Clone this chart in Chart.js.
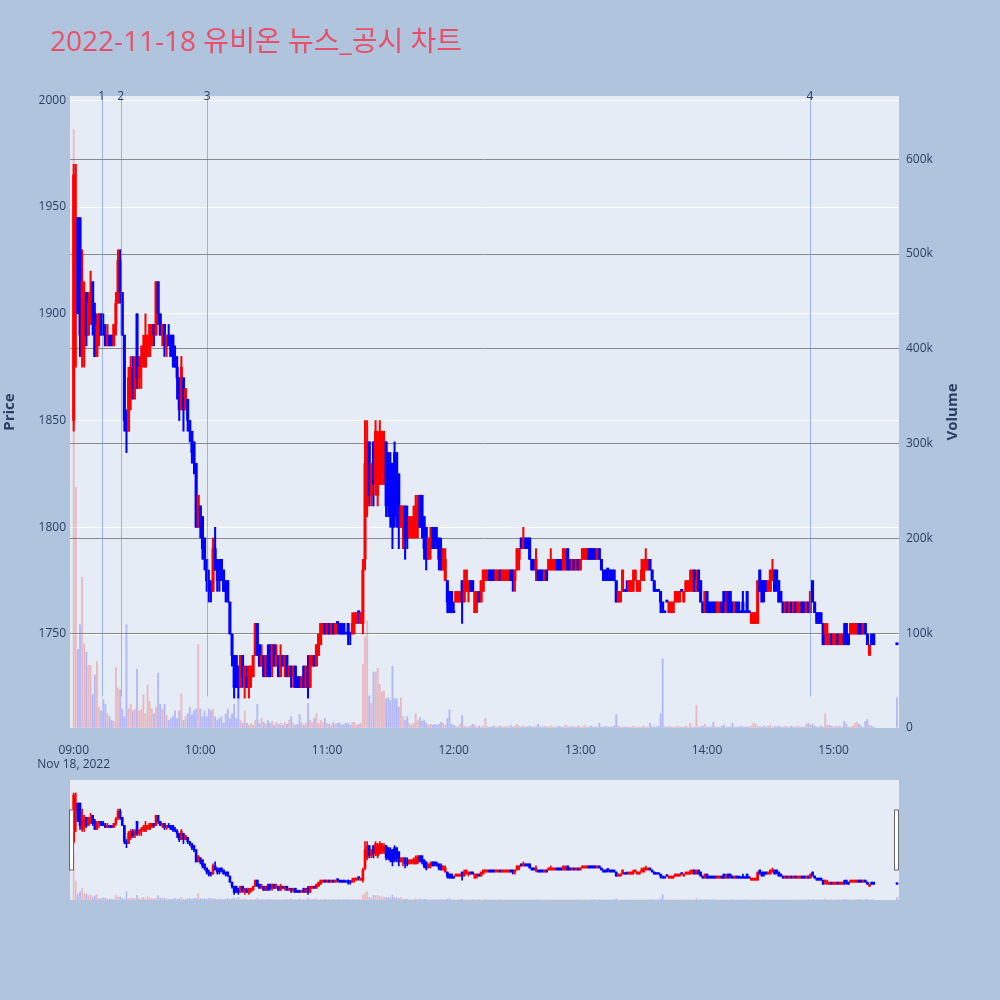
<!DOCTYPE html>
<html>
<head>
<meta charset="utf-8">
<script src="https://cdn.jsdelivr.net/npm/chart.js@4.4.0/dist/chart.umd.min.js"></script>
<style>
  html, body { margin: 0; padding: 0; background: #B0C4DE; }
  #wrap { position: relative; width: 1000px; height: 1000px; }
  #main { position: absolute; left: 0; top: 0; }
  #slider { position: absolute; left: 0; top: 760px; }
</style>
</head>
<body>
<div id="wrap">
  <canvas id="main" width="1000" height="1000"></canvas>
  <canvas id="slider" width="1000" height="160"></canvas>
</div>
<script>
var titleText = '2022-11-18 유비온 뉴스_공시 차트';

// 1분봉, 09:00 ~ 15:19 + 15:30 종가
var opens = [
  1850, 1925, 1945, 1945, 1880, 1885, 1910, 1890, 1895, 1915,
  1900, 1880, 1895, 1900, 1895, 1890, 1885, 1890, 1890, 1885,
  1895, 1905, 1925, 1910, 1890, 1850, 1845, 1860, 1875, 1865,
  1900, 1870, 1875, 1880, 1875, 1885, 1880, 1885, 1895, 1890,
  1915, 1900, 1890, 1895, 1885, 1890, 1890, 1890, 1880, 1875,
  1870, 1855, 1870, 1855, 1860, 1850, 1845, 1840, 1830, 1800,
  1810, 1805, 1795, 1785, 1775, 1770, 1770, 1790, 1785, 1780,
  1785, 1780, 1775, 1775, 1765, 1750, 1740, 1740, 1735, 1725,
  1740, 1725, 1730, 1725, 1730, 1730, 1740, 1755, 1745, 1735,
  1740, 1730, 1740, 1745, 1735, 1745, 1735, 1740, 1730, 1740,
  1735, 1740, 1730, 1735, 1730, 1735, 1730, 1730, 1725, 1735,
  1725, 1735, 1725, 1735, 1740, 1735, 1740, 1745, 1750, 1755,
  1750, 1755, 1750, 1755, 1750, 1755, 1755, 1750, 1755, 1750,
  1755, 1750, 1750, 1755, 1755, 1760, 1755, 1755, 1785, 1810,
  1840, 1815, 1840, 1820, 1815, 1820, 1825, 1825, 1840, 1835,
  1830, 1830, 1835, 1835, 1825, 1800, 1800, 1810, 1800, 1795,
  1800, 1795, 1795, 1800, 1815, 1815, 1805, 1800, 1785, 1790,
  1800, 1800, 1795, 1795, 1790, 1780, 1775, 1775, 1770, 1770,
  1760, 1765, 1765, 1765, 1775, 1765, 1770, 1770, 1775, 1775,
  1760, 1765, 1770, 1765, 1770, 1775, 1775, 1780, 1780, 1780,
  1775, 1775, 1780, 1775, 1775, 1775, 1775, 1780, 1780, 1775,
  1780, 1785, 1795, 1790, 1795, 1795, 1795, 1785, 1785, 1780,
  1780, 1780, 1780, 1775, 1780, 1780, 1780, 1780, 1780, 1785,
  1785, 1785, 1780, 1780, 1790, 1785, 1780, 1785, 1780, 1785,
  1780, 1785, 1785, 1785, 1790, 1790, 1790, 1790, 1785, 1790,
  1785, 1780, 1780, 1780, 1780, 1780, 1780, 1775, 1765, 1765,
  1770, 1770, 1770, 1770, 1770, 1770, 1775, 1770, 1770, 1775,
  1775, 1780, 1780, 1785, 1780, 1775, 1770, 1770, 1770, 1765,
  1760, 1765, 1760, 1760, 1760, 1765, 1765, 1765, 1770, 1765,
  1770, 1770, 1770, 1775, 1780, 1770, 1780, 1775, 1765, 1760,
  1770, 1765, 1765, 1765, 1765, 1760, 1760, 1765, 1770, 1760,
  1770, 1770, 1765, 1760, 1765, 1765, 1760, 1765, 1760, 1770,
  1760, 1755, 1755, 1755, 1755, 1780, 1775, 1775, 1775, 1770,
  1770, 1775, 1780, 1780, 1775, 1770, 1765, 1760, 1765, 1760,
  1765, 1760, 1765, 1760, 1760, 1765, 1765, 1760, 1765, 1760,
  1775, 1765, 1760, 1760, 1760, 1755, 1750, 1745, 1745, 1750,
  1745, 1745, 1750, 1745, 1745, 1750, 1755, 1750, 1750, 1750,
  1750, 1750, 1755, 1755, 1750, 1755, 1750, 1740, 1750, 1750,
  1745
];
var highs = [
  1970, 1970, 1945, 1945, 1930, 1915, 1910, 1910, 1920, 1915,
  1905, 1900, 1900, 1900, 1900, 1895, 1895, 1890, 1890, 1895,
  1910, 1930, 1930, 1910, 1890, 1855, 1875, 1880, 1880, 1880,
  1900, 1880, 1885, 1890, 1900, 1890, 1895, 1895, 1895, 1915,
  1915, 1900, 1895, 1895, 1890, 1895, 1890, 1890, 1885, 1880,
  1870, 1880, 1870, 1865, 1860, 1850, 1845, 1840, 1830, 1815,
  1810, 1805, 1795, 1785, 1780, 1775, 1795, 1800, 1785, 1785,
  1785, 1780, 1775, 1775, 1765, 1750, 1740, 1740, 1735, 1740,
  1740, 1735, 1735, 1735, 1735, 1740, 1755, 1755, 1745, 1745,
  1740, 1740, 1745, 1745, 1745, 1745, 1745, 1740, 1745, 1740,
  1740, 1740, 1735, 1735, 1735, 1735, 1730, 1730, 1730, 1735,
  1735, 1740, 1740, 1740, 1740, 1745, 1750, 1755, 1755, 1755,
  1755, 1755, 1755, 1755, 1755, 1755, 1755, 1755, 1755, 1750,
  1755, 1750, 1760, 1760, 1760, 1760, 1760, 1785, 1850, 1850,
  1840, 1830, 1840, 1850, 1845, 1850, 1845, 1845, 1840, 1835,
  1835, 1830, 1840, 1835, 1825, 1810, 1810, 1810, 1810, 1805,
  1805, 1810, 1815, 1815, 1815, 1815, 1805, 1800, 1795, 1800,
  1800, 1800, 1800, 1795, 1795, 1790, 1790, 1775, 1770, 1770,
  1765, 1770, 1770, 1770, 1775, 1780, 1780, 1775, 1775, 1775,
  1770, 1770, 1770, 1775, 1780, 1780, 1780, 1780, 1780, 1780,
  1780, 1780, 1780, 1780, 1780, 1780, 1780, 1780, 1780, 1780,
  1790, 1790, 1795, 1800, 1795, 1795, 1795, 1785, 1785, 1790,
  1780, 1780, 1780, 1780, 1780, 1785, 1790, 1785, 1785, 1785,
  1785, 1785, 1790, 1790, 1790, 1785, 1785, 1785, 1785, 1785,
  1785, 1790, 1790, 1790, 1790, 1790, 1790, 1790, 1790, 1790,
  1785, 1780, 1780, 1780, 1780, 1780, 1780, 1775, 1770, 1770,
  1780, 1770, 1775, 1775, 1775, 1780, 1780, 1775, 1775, 1785,
  1785, 1790, 1785, 1785, 1780, 1775, 1770, 1770, 1770, 1765,
  1760, 1765, 1765, 1765, 1765, 1770, 1770, 1770, 1770, 1770,
  1775, 1775, 1780, 1780, 1780, 1780, 1780, 1775, 1765, 1770,
  1770, 1765, 1765, 1765, 1765, 1765, 1765, 1765, 1770, 1770,
  1770, 1770, 1765, 1765, 1765, 1765, 1760, 1770, 1760, 1770,
  1760, 1760, 1760, 1760, 1775, 1780, 1775, 1775, 1775, 1775,
  1780, 1785, 1780, 1780, 1775, 1770, 1765, 1765, 1765, 1765,
  1765, 1765, 1765, 1765, 1765, 1765, 1765, 1765, 1765, 1770,
  1775, 1765, 1760, 1760, 1760, 1755, 1755, 1755, 1750, 1750,
  1750, 1750, 1750, 1750, 1750, 1755, 1755, 1750, 1755, 1755,
  1755, 1755, 1755, 1755, 1755, 1755, 1750, 1745, 1750, 1750,
  1745
];
var lows = [
  1845, 1875, 1900, 1880, 1875, 1875, 1885, 1890, 1895, 1890,
  1880, 1880, 1885, 1890, 1890, 1885, 1885, 1885, 1885, 1885,
  1890, 1905, 1905, 1890, 1845, 1835, 1845, 1855, 1860, 1860,
  1865, 1865, 1865, 1875, 1875, 1880, 1880, 1885, 1885, 1890,
  1895, 1890, 1885, 1880, 1880, 1885, 1880, 1875, 1875, 1860,
  1850, 1855, 1845, 1855, 1845, 1840, 1830, 1825, 1800, 1800,
  1795, 1785, 1780, 1770, 1765, 1765, 1770, 1780, 1770, 1770,
  1775, 1770, 1765, 1765, 1750, 1735, 1720, 1725, 1720, 1725,
  1725, 1720, 1725, 1720, 1725, 1730, 1740, 1740, 1735, 1735,
  1730, 1730, 1730, 1730, 1730, 1735, 1735, 1730, 1730, 1735,
  1730, 1730, 1730, 1725, 1725, 1725, 1725, 1725, 1725, 1725,
  1725, 1720, 1725, 1735, 1735, 1735, 1740, 1745, 1750, 1750,
  1750, 1750, 1750, 1750, 1750, 1750, 1750, 1750, 1750, 1750,
  1745, 1745, 1750, 1750, 1755, 1755, 1755, 1750, 1780, 1805,
  1810, 1810, 1810, 1815, 1810, 1820, 1820, 1820, 1805, 1805,
  1800, 1790, 1800, 1800, 1790, 1800, 1790, 1785, 1790, 1795,
  1795, 1795, 1795, 1795, 1800, 1795, 1785, 1780, 1785, 1785,
  1790, 1790, 1790, 1780, 1780, 1780, 1775, 1760, 1760, 1760,
  1760, 1765, 1765, 1765, 1755, 1765, 1770, 1765, 1770, 1770,
  1760, 1760, 1765, 1765, 1770, 1775, 1775, 1775, 1775, 1775,
  1775, 1775, 1775, 1775, 1775, 1775, 1775, 1775, 1770, 1770,
  1780, 1780, 1790, 1790, 1790, 1790, 1785, 1780, 1780, 1775,
  1775, 1775, 1775, 1775, 1775, 1780, 1780, 1780, 1780, 1780,
  1780, 1780, 1780, 1780, 1780, 1780, 1780, 1780, 1780, 1780,
  1780, 1785, 1785, 1785, 1785, 1785, 1785, 1785, 1785, 1785,
  1780, 1775, 1775, 1775, 1775, 1775, 1775, 1765, 1765, 1765,
  1770, 1770, 1770, 1770, 1770, 1770, 1775, 1770, 1770, 1775,
  1775, 1780, 1780, 1780, 1775, 1770, 1770, 1770, 1760, 1760,
  1760, 1765, 1760, 1760, 1760, 1765, 1765, 1765, 1770, 1765,
  1770, 1770, 1770, 1770, 1770, 1770, 1770, 1765, 1760, 1760,
  1760, 1760, 1760, 1760, 1760, 1760, 1760, 1760, 1760, 1760,
  1760, 1760, 1760, 1760, 1760, 1760, 1760, 1760, 1760, 1760,
  1760, 1755, 1755, 1755, 1755, 1770, 1765, 1765, 1770, 1770,
  1770, 1775, 1770, 1770, 1765, 1765, 1760, 1760, 1760, 1760,
  1760, 1760, 1760, 1760, 1760, 1760, 1760, 1760, 1760, 1760,
  1765, 1760, 1755, 1755, 1755, 1745, 1745, 1745, 1745, 1745,
  1745, 1745, 1745, 1745, 1745, 1745, 1745, 1745, 1750, 1750,
  1750, 1750, 1750, 1750, 1750, 1750, 1745, 1740, 1745, 1745,
  1745
];
var closes = [
  1965, 1945, 1900, 1890, 1915, 1905, 1890, 1905, 1910, 1895,
  1880, 1895, 1900, 1890, 1890, 1885, 1890, 1885, 1885, 1895,
  1905, 1925, 1910, 1890, 1850, 1845, 1870, 1875, 1865, 1875,
  1870, 1875, 1880, 1885, 1890, 1890, 1895, 1895, 1890, 1915,
  1900, 1890, 1895, 1885, 1890, 1885, 1880, 1880, 1875, 1870,
  1855, 1875, 1855, 1865, 1850, 1845, 1835, 1830, 1800, 1815,
  1800, 1790, 1785, 1775, 1770, 1770, 1790, 1780, 1775, 1775,
  1780, 1770, 1770, 1765, 1750, 1740, 1725, 1725, 1725, 1740,
  1730, 1735, 1725, 1735, 1735, 1740, 1755, 1740, 1735, 1740,
  1730, 1740, 1730, 1735, 1745, 1735, 1740, 1730, 1740, 1735,
  1740, 1730, 1735, 1730, 1735, 1725, 1725, 1725, 1730, 1725,
  1735, 1725, 1740, 1740, 1735, 1745, 1750, 1755, 1755, 1750,
  1755, 1750, 1755, 1750, 1755, 1755, 1750, 1750, 1750, 1750,
  1750, 1750, 1755, 1760, 1760, 1760, 1760, 1780, 1830, 1840,
  1815, 1830, 1820, 1845, 1840, 1845, 1845, 1840, 1810, 1810,
  1805, 1800, 1805, 1810, 1800, 1810, 1810, 1795, 1795, 1805,
  1805, 1805, 1810, 1815, 1800, 1800, 1790, 1785, 1795, 1795,
  1790, 1795, 1790, 1785, 1780, 1790, 1785, 1765, 1760, 1760,
  1760, 1770, 1770, 1770, 1765, 1775, 1780, 1775, 1770, 1770,
  1770, 1770, 1765, 1775, 1780, 1780, 1780, 1775, 1775, 1775,
  1780, 1780, 1775, 1780, 1780, 1780, 1780, 1775, 1775, 1780,
  1790, 1790, 1790, 1795, 1790, 1790, 1785, 1780, 1780, 1785,
  1775, 1775, 1775, 1780, 1775, 1785, 1785, 1785, 1785, 1780,
  1780, 1780, 1790, 1785, 1780, 1780, 1785, 1780, 1785, 1780,
  1785, 1790, 1790, 1790, 1785, 1785, 1785, 1785, 1790, 1785,
  1780, 1775, 1775, 1780, 1775, 1775, 1775, 1765, 1770, 1770,
  1780, 1770, 1770, 1775, 1775, 1775, 1780, 1775, 1775, 1780,
  1785, 1785, 1785, 1780, 1775, 1770, 1770, 1770, 1765, 1760,
  1760, 1765, 1765, 1765, 1765, 1770, 1770, 1770, 1770, 1770,
  1775, 1775, 1775, 1780, 1770, 1775, 1770, 1765, 1760, 1770,
  1760, 1760, 1760, 1760, 1760, 1765, 1765, 1760, 1760, 1765,
  1760, 1765, 1760, 1765, 1760, 1760, 1760, 1760, 1760, 1760,
  1760, 1760, 1760, 1760, 1775, 1770, 1765, 1770, 1770, 1775,
  1780, 1780, 1770, 1775, 1765, 1765, 1760, 1765, 1760, 1765,
  1760, 1765, 1760, 1765, 1765, 1760, 1760, 1765, 1760, 1770,
  1765, 1760, 1755, 1755, 1755, 1745, 1755, 1750, 1750, 1745,
  1750, 1750, 1745, 1750, 1750, 1745, 1750, 1745, 1755, 1755,
  1755, 1755, 1750, 1750, 1755, 1750, 1745, 1745, 1745, 1745,
  1745
];
// 거래량 (천주)
var volumeK = [
  631, 254, 83, 109, 159, 89, 80, 66, 66, 35,
  56, 70, 22, 18, 30, 25, 15, 12, 8, 7,
  64, 42, 40, 20, 12, 109, 20, 25, 18, 20,
  62, 18, 20, 35, 15, 45, 28, 20, 15, 22,
  58, 25, 20, 25, 13, 8, 10, 12, 18, 10,
  18, 36, 8, 12, 15, 22, 14, 18, 20, 88,
  20, 12, 18, 12, 20, 18, 20, 12, 8, 10,
  12, 5, 15, 20, 10, 15, 25, 10, 35, 8,
  5, 18, 5, 3, 5, 3, 8, 25, 5, 10,
  6, 4, 8, 5, 7, 3, 6, 4, 5, 3,
  6, 4, 8, 12, 5, 3, 4, 14, 6, 3,
  5, 26, 8, 6, 10, 15, 5, 8, 6, 10,
  5, 4, 3, 6, 4, 5, 5, 3, 4, 5,
  5, 3, 6, 6, 3, 4, 5, 67, 96, 113,
  34, 26, 59, 59, 63, 46, 38, 39, 31, 32,
  29, 65, 31, 31, 22, 32, 12, 8, 12, 5,
  3, 5, 15, 8, 11, 7, 8, 5, 3, 4,
  3, 4, 3, 4, 6, 5, 3, 10, 19, 4,
  3, 2, 1, 4, 13, 2, 1, 1, 2, 4,
  3, 1, 2, 1, 2, 10, 2, 1, 1, 2,
  1, 1, 2, 1, 1, 2, 1, 3, 1, 2,
  4, 2, 1, 2, 1, 1, 2, 1, 1, 2,
  4, 1, 1, 2, 1, 1, 2, 1, 1, 1,
  2, 1, 1, 3, 1, 1, 2, 1, 1, 2,
  1, 1, 3, 1, 1, 2, 1, 1, 1, 5,
  1, 1, 2, 1, 1, 1, 2, 14, 2, 1,
  1, 1, 1, 1, 1, 2, 1, 1, 1, 1,
  2, 1, 1, 5, 1, 1, 1, 2, 15, 73,
  1, 1, 2, 1, 1, 1, 2, 1, 1, 1,
  2, 1, 5, 1, 1, 24, 1, 1, 2, 4,
  1, 1, 1, 6, 1, 1, 1, 2, 3, 1,
  1, 1, 5, 1, 1, 1, 2, 1, 1, 1,
  1, 2, 5, 4, 2, 1, 1, 2, 1, 2,
  3, 1, 2, 1, 2, 1, 1, 2, 1, 1,
  2, 1, 1, 2, 1, 1, 1, 4, 5, 3,
  4, 2, 1, 1, 2, 1, 15, 3, 3, 2,
  1, 2, 1, 2, 1, 7, 4, 1, 1, 2,
  5, 6, 4, 2, 1, 7, 9, 3, 2, 1,
  32
];

// 뉴스/공시 시점 (09:00 기준 분)
var newsLabels = ['1', '2', '3', '4'];
var newsMinutes = [13.3, 22.3, 63.2, 348.7];

var hourTicks = [0, 60, 120, 180, 240, 300, 360];
var hourLabels = ['09:00', '10:00', '11:00', '12:00', '13:00', '14:00', '15:00'];
var dateLabel = 'Nov 18, 2022';

// 15:20까지 1분 간격, 마지막은 15:30 단일가
var minutes = opens.map(function(_, i) { return i < 380 ? i : 390; });

var UP = '#ff0000', DOWN = '#0000ff';
var candleColors = closes.map(function(c, i) { return c > opens[i] ? UP : DOWN; });
var volColors = closes.map(function(c, i) { return c > opens[i] ? 'rgba(255,0,0,0.22)' : 'rgba(0,0,255,0.22)'; });

var tickColor = '#2a3f5f';
var tickFont = { family: "'Open Sans', sans-serif", size: 12 };
var xMin = -1.75, xMax = 390.95;

function buildDatasets(bodyW, wickW, volW, minLen) {
    return [
        {
            data: minutes.map(function(m, i) { return { x: m, y: [opens[i], closes[i]] }; }),
            backgroundColor: candleColors, barThickness: bodyW, minBarLength: minLen,
            grouped: false, yAxisID: 'y', order: 0
        },
        {
            data: minutes.map(function(m, i) { return { x: m, y: [lows[i], highs[i]] }; }),
            backgroundColor: candleColors, barThickness: wickW,
            grouped: false, yAxisID: 'y', order: 1
        },
        {
            data: minutes.map(function(m, i) { return { x: m, y: volumeK[i] }; }),
            backgroundColor: volColors, barThickness: volW,
            grouped: false, yAxisID: 'y2', order: 2
        }
    ];
}

var mainDecor = {
    id: 'mainDecor',
    beforeDraw: function(chart) {
        var ctx = chart.ctx, a = chart.chartArea;
        ctx.save();
        ctx.fillStyle = '#E5ECF6';
        ctx.fillRect(a.left, a.top, a.right - a.left, a.bottom - a.top);
        ctx.restore();
    },
    afterDatasetsDraw: function(chart) {
        var ctx = chart.ctx, a = chart.chartArea, x = chart.scales.x;
        var yEnd = a.bottom - 0.05 * (a.bottom - a.top);
        ctx.save();
        ctx.strokeStyle = 'rgba(80,115,235,0.5)';
        ctx.lineWidth = 1;
        newsMinutes.forEach(function(m) {
            var px = Math.round(x.getPixelForValue(m)) + 0.5;
            ctx.beginPath();
            ctx.moveTo(px, a.top);
            ctx.lineTo(px, yEnd);
            ctx.stroke();
        });
        ctx.restore();
    },
    afterDraw: function(chart) {
        var ctx = chart.ctx, a = chart.chartArea, x = chart.scales.x;
        ctx.save();
        // 뉴스 번호
        ctx.fillStyle = tickColor;
        ctx.font = "12px 'Open Sans', sans-serif";
        ctx.textAlign = 'center';
        ctx.textBaseline = 'middle';
        newsMinutes.forEach(function(m, k) {
            ctx.fillText(newsLabels[k], x.getPixelForValue(m), a.top + 1);
        });
        // 제목
        ctx.fillStyle = '#e8506a';
        ctx.font = "28px 'Open Sans', 'Noto Sans CJK KR', sans-serif";
        ctx.textAlign = 'left';
        ctx.textBaseline = 'alphabetic';
        ctx.fillText(titleText, 50, 51);
        // 축 제목
        var midY = (a.top + a.bottom) / 2;
        ctx.fillStyle = tickColor;
        ctx.font = "bold 15px 'Open Sans', sans-serif";
        ctx.textAlign = 'center';
        ctx.textBaseline = 'middle';
        ctx.translate(10, midY);
        ctx.rotate(-Math.PI / 2);
        ctx.fillText('Price', 0, 0);
        ctx.rotate(Math.PI / 2);
        ctx.translate(943, 0);
        ctx.rotate(-Math.PI / 2);
        ctx.fillText('Volume', 0, 0);
        ctx.restore();
    }
};

new Chart(document.getElementById('main'), {
    type: 'bar',
    data: { datasets: buildDatasets(2.4, 1.4, 1.2, 2) },
    options: {
        responsive: false,
        animation: false,
        devicePixelRatio: 1,
        layout: { padding: { top: 96, bottom: 212, left: 0, right: 0 } },
        plugins: { legend: { display: false }, tooltip: { enabled: false } },
        scales: {
            x: {
                type: 'linear', min: xMin, max: xMax, offset: false,
                grid: { display: false }, border: { display: false },
                afterBuildTicks: function(s) { s.ticks = hourTicks.map(function(v) { return { value: v }; }); },
                afterFit: function(s) { s.height = 60; },
                ticks: {
                    color: tickColor, font: tickFont, padding: 7, maxRotation: 0, autoSkip: false,
                    callback: function(v) {
                        var k = hourTicks.indexOf(v);
                        return k === 0 ? [hourLabels[0], dateLabel] : hourLabels[k];
                    }
                }
            },
            y: {
                position: 'left', min: 1706, max: 2002,
                grid: { color: '#ffffff', drawTicks: false }, border: { display: false },
                ticks: {
                    stepSize: 50, includeBounds: false, color: tickColor, font: tickFont, padding: 4,
                    callback: function(v) { return String(v); }
                },
                afterFit: function(s) { s.width = 70; }
            },
            y2: {
                position: 'right', min: 0, max: 666.7,
                grid: {
                    color: function(c) { return c.tick.value === 0 ? 'rgba(0,0,0,0)' : '#8a8a8a'; },
                    drawTicks: false
                },
                border: { display: false },
                ticks: {
                    stepSize: 100, includeBounds: false, color: tickColor, font: tickFont, padding: 7,
                    callback: function(v) { return v === 0 ? '0' : v + 'k'; }
                },
                afterFit: function(s) { s.width = 101; }
            }
        }
    },
    plugins: [mainDecor]
});

// 하단 범위 슬라이더
var sliderDecor = {
    id: 'sliderDecor',
    beforeDraw: function(chart) {
        var ctx = chart.ctx, a = chart.chartArea;
        ctx.save();
        ctx.fillStyle = '#E5ECF6';
        ctx.fillRect(a.left, a.top, a.right - a.left, a.bottom - a.top);
        ctx.restore();
    },
    afterDraw: function(chart) {
        var ctx = chart.ctx, a = chart.chartArea;
        ctx.save();
        ctx.fillStyle = '#ffffff';
        ctx.strokeStyle = '#666666';
        ctx.lineWidth = 1;
        [a.left - 0.5, a.right - 4.5].forEach(function(hx) {
            ctx.fillRect(hx, a.top + 30, 4, 60);
            ctx.strokeRect(hx, a.top + 30, 4, 60);
        });
        ctx.restore();
    }
};

new Chart(document.getElementById('slider'), {
    type: 'bar',
    data: { datasets: buildDatasets(2, 1, 1, 1.5) },
    options: {
        responsive: false,
        animation: false,
        devicePixelRatio: 1,
        layout: { padding: { left: 70, right: 101, top: 20, bottom: 20 } },
        plugins: { legend: { display: false }, tooltip: { enabled: false } },
        scales: {
            x: { type: 'linear', display: false, min: xMin, max: xMax, offset: false },
            y: { display: false, min: 1706, max: 2002 },
            y2: { display: false, min: 0, max: 1610 }
        }
    },
    plugins: [sliderDecor]
});
</script>
</body>
</html>
